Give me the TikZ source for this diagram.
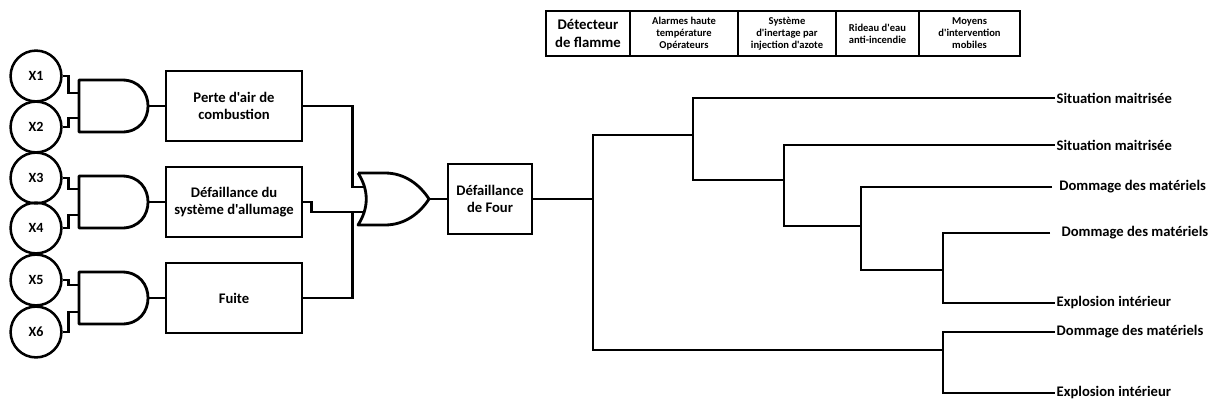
\documentclass[tikz,border=0pt]{standalone}
\usepackage{fontspec}
\setmainfont{Carlito}[Ligatures=TeXOff]
\usepackage{tikz}
\usetikzlibrary{positioning}

\begin{document}
\begin{tikzpicture}[
  x=0.025cm, y=-0.025cm,
  wire/.style={line width=2pt},
  gate/.style={line width=2pt, line join=round},
  evt/.style={circle, draw, line width=1.8pt, minimum size=1.27cm, inner sep=0pt, font=\bfseries\fontsize{10}{11}\selectfont},
  box/.style={rectangle, draw, line width=2.1pt, align=center, minimum width=3.4cm, minimum height=1.75cm, inner sep=1pt, font=\bfseries\fontsize{10.4}{12.5}\selectfont},
  cell/.style={rectangle, draw, line width=1.6pt, align=center, minimum height=1.125cm, inner sep=0pt, font=\bfseries\fontsize{7.5}{8.6}\selectfont},
  outc/.style={anchor=west, inner xsep=1pt, inner ysep=0pt, font=\bfseries\fontsize{10.4}{11}\selectfont}
]
\useasboundingbox (0,0) rectangle (1217,408);

% header of the event tree
\node[cell, minimum width=2.1cm, font=\bfseries\fontsize{10.5}{12.5}\selectfont] (h1) at (588,33.5) {Détecteur\\de flamme};
\node[cell, minimum width=2.7cm] (h2) at (684,33.5) {Alarmes haute\\température\\Opérateurs};
\node[cell, minimum width=2.45cm] (h3) at (787,33.5) {Système\\d'inertage par\\injection d'azote};
\node[cell, minimum width=2.075cm] (h4) at (877.5,33.5) {Rideau d'eau\\anti-incendie};
\node[cell, minimum width=2.525cm] (h5) at (969.5,33.5) {Moyens\\d'intervention\\mobiles};

% basic events
\node[evt] (x1) at (36,76) {X1};
\node[evt] (x2) at (36,127) {X2};
\node[evt] (x3) at (36,178) {X3};
\node[evt] (x4) at (36,228) {X4};
\node[evt] (x5) at (36,280) {X5};
\node[evt] (x6) at (36,332) {X6};

% AND gates
\draw[gate] (79,80) -- (122,80) .. controls (156.7,80) and (156.7,132) .. (122,132) -- (79,132) -- cycle;
\draw[gate] (79,176) -- (122,176) .. controls (156.7,176) and (156.7,228) .. (122,228) -- (79,228) -- cycle;
\draw[gate] (79,272) -- (122,272) .. controls (156.7,272) and (156.7,324) .. (122,324) -- (79,324) -- cycle;
\coordinate (g1a) at (79,93);  \coordinate (g1b) at (79,118); \coordinate (g1o) at (148,106);
\coordinate (g2a) at (79,189); \coordinate (g2b) at (79,215); \coordinate (g2o) at (148,202);
\coordinate (g3a) at (79,285); \coordinate (g3b) at (79,312); \coordinate (g3o) at (148,298);

\draw[wire] (x1.east) -- ++(6,0) |- (g1a);
\draw[wire] (x2.east) -- ++(6,0) |- (g1b);
\draw[wire] (x3.east) -- ++(6,0) |- (g2a);
\draw[wire] (x4.east) -- ++(6,0) |- (g2b);
\draw[wire] (x5.east) -- ++(6,0) |- (g3a);
\draw[wire] (x6.east) -- ++(6,0) |- (g3b);

% intermediate events
\node[box] (perte) at (234,106) {Perte d'air de\\combustion};
\node[box] (allum) at (234,202) {Défaillance du\\système d'allumage};
\node[box] (fuite) at (234,298) {Fuite};

\draw[wire] (g1o) -- (perte);
\draw[wire] (g2o) -- (allum);
\draw[wire] (g3o) -- (fuite);

% OR gate
\draw[gate] (358,173) -- (385,173) .. controls (405,173) and (420,185) .. (429,199)
  .. controls (420,213) and (405,225) .. (385,225) -- (358,225)
  .. controls (369,208) and (369,190) .. (358,173);
\coordinate (o1) at (364,187); \coordinate (o2) at (364,212); \coordinate (oo) at (429,199);

\draw[wire] (perte.east) -- ++(49,0) |- (o1);
\draw[wire] (allum.east) -- ++(8,0) |- (o2);
\draw[wire] (fuite.east) -- ++(49,0) |- (o2);

% top event
\node[box, minimum width=2.1cm] (four) at (490,199) {Défaillance\\de Four};
\draw[wire] (oo) -- (four);

% event tree
\coordinate (b0) at (593,199);
\coordinate (b1) at (693,135);
\coordinate (b2) at (784,180);
\coordinate (b3) at (861,226);
\coordinate (b4) at (943,270);
\coordinate (b5) at (943,350);

\node[outc] (s1) at (1055,98) {Situation maitrisée};
\node[outc] (s2) at (1055,145) {Situation maitrisée};
\node[outc, inner xsep=5pt] (d1) at (1052,187) {Dommage des matériels};
\node[outc, inner xsep=8pt] (d2) at (1050,233) {Dommage des matériels};
\node[outc] (e1) at (1055,303) {Explosion intérieur};
\node[outc] (d3) at (1055,332) {Dommage des matériels};
\node[outc] (e2) at (1055,393) {Explosion intérieur};

\draw[wire] (four) -- (b0);
\draw[wire] (b1) -| (b0) |- (b5);
\draw[wire] (s1) -| (b1) |- (b2);
\draw[wire] (s2) -| (b2) |- (b3);
\draw[wire] (d1) -| (b3) |- (b4);
\draw[wire] (d2) -| (b4) |- (e1);
\draw[wire] (d3) -| (b5) |- (e2);
\end{tikzpicture}
\end{document}
